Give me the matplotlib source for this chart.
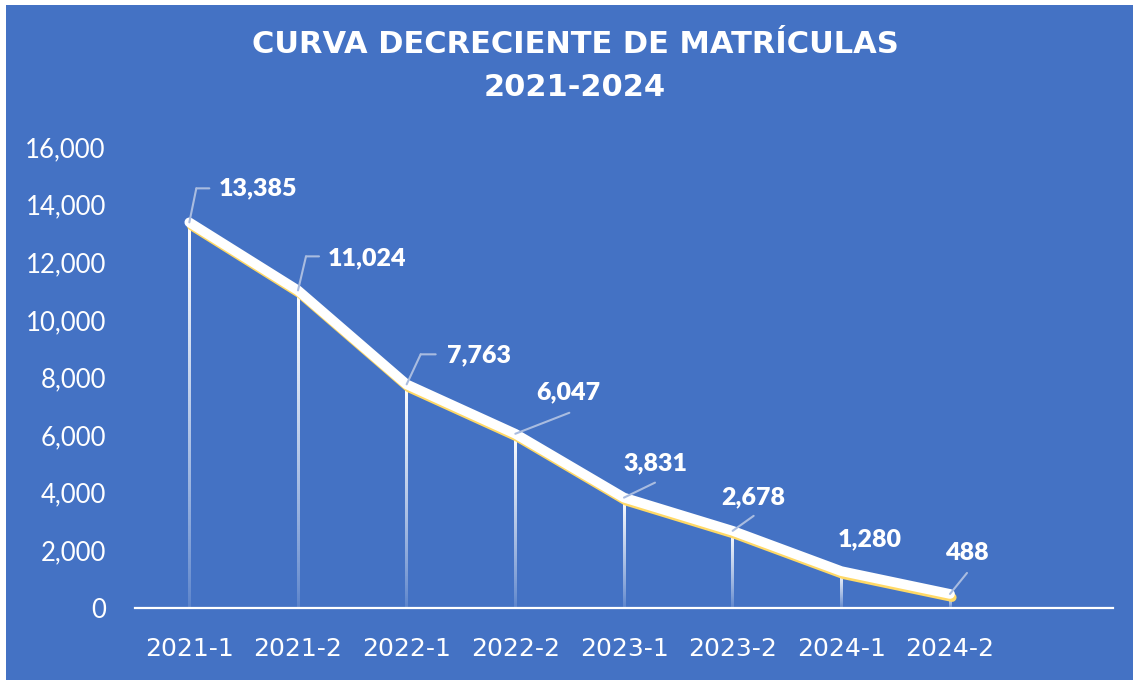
import matplotlib
matplotlib.use("Agg")
import matplotlib.pyplot as plt
import matplotlib.patheffects as pe
from matplotlib.transforms import offset_copy
import numpy as np

categories = ["2021-1", "2021-2", "2022-1", "2022-2", "2023-1", "2023-2", "2024-1", "2024-2"]
values = [13385, 11024, 7763, 6047, 3831, 2678, 1280, 488]
value_labels = ["13,385", "11,024", "7,763", "6,047", "3,831", "2,678", "1,280", "488"]
yticks = [0, 2000, 4000, 6000, 8000, 10000, 12000, 14000, 16000]
ytick_labels = ["0", "2,000", "4,000", "6,000", "8,000", "10,000", "12,000", "14,000", "16,000"]
title = "CURVA DECRECIENTE DE MATRÍCULAS\n2021-2024"

BLUE = "#4472C4"
LEADER = "#A9BCE0"
YELLOW = "#FFD966"

W, H = 1133, 680
fig = plt.figure(figsize=(W / 100, H / 100), dpi=100, facecolor="white")
bg = plt.Rectangle((6 / W, 0), 1 - 6 / W, 1 - 5 / H, transform=fig.transFigure,
                   facecolor=BLUE, edgecolor="none", zorder=-10)
fig.patches.append(bg)

ax = fig.add_axes([135 / W, 1 - 608 / H, (1113 - 135) / W, (608 - 147) / H])
ax.set_facecolor("none")
ax.set_xlim(-0.5, 8.5)
ax.set_ylim(0, 16000)

x = np.arange(len(values))

# drop lines with fading gradient (smooth images)
grad = np.linspace(0, 1, 256) ** 0.8  # bottom -> top alpha
rgba = np.ones((256, 1, 4))
rgba[:, 0, 3] = 0.12 + 0.88 * grad
half_w = 1.3 / 108.7
for xi, v in zip(x, values):
    ax.imshow(rgba, extent=[xi - half_w, xi + half_w, 0, v], origin="lower",
              aspect="auto", interpolation="bilinear", zorder=2)
ax.set_xlim(-0.5, 8.5)
ax.set_ylim(0, 16000)

# main line with yellow shadow
ax.plot(x, values, color=YELLOW, lw=6.5, solid_capstyle="round", solid_joinstyle="round", zorder=3,
        path_effects=[pe.Stroke(offset=(1.5, -2.5), linewidth=6.5, foreground=YELLOW)])
ax.plot(x, values, color="white", lw=7, solid_capstyle="round", solid_joinstyle="round", zorder=4)

# data labels with leader lines (pixel offsets)
leaders = [
    [(7, 34), (20, 34)],
    [(8, 34), (21, 34)],
    [(14, 30), (29, 30)],
    [(54, 21)],
    [(31, 15)],
    [(21, 15)],
    [],
    [(17, 21)],
]
label_pos = [(69, 34), (69, 32), (72, 29), (53, 41), (31, 34), (21, 34), (28, 32), (17, 41)]

for i, (v, lab) in enumerate(zip(values, value_labels)):
    pts = [(0, 0)] + leaders[i]
    for (ax0, ay0), (ax1, ay1) in zip(pts[:-1], pts[1:]):
        tr = offset_copy(ax.transData, fig=fig, x=ax0, y=ay0, units="dots")
        ax.annotate("", xy=(x[i], v), xycoords=tr, xytext=(ax1 - ax0, ay1 - ay0),
                    textcoords="offset pixels",
                    arrowprops=dict(arrowstyle="-", color=LEADER, lw=1.5, shrinkA=0, shrinkB=0),
                    zorder=5)
    dx, dy = label_pos[i]
    ax.annotate(lab, xy=(x[i], v), xytext=(dx, dy), textcoords="offset pixels",
                ha="center", va="center", color="white", fontsize=18, fontweight="heavy",
                family="Lato", zorder=6)

# axes styling
for s in ["top", "right", "left"]:
    ax.spines[s].set_visible(False)
ax.spines["bottom"].set_color("white")
ax.spines["bottom"].set_linewidth(1.6)
ax.spines["bottom"].set_zorder(1)

ax.set_yticks(yticks)
ax.set_yticklabels(ytick_labels, family="Lato", fontsize=18.5, color="white")
ax.set_xticks(x)
ax.set_xticklabels(categories, family="DejaVu Sans", fontsize=18, color="white")
ax.tick_params(axis="y", length=0, pad=21)
ax.tick_params(axis="x", length=0, pad=21)

fig.text(575 / W, 1 - 66 / H, title, ha="center", va="center", color="white",
         fontsize=22, fontweight="bold", family="DejaVu Sans", linespacing=1.6)

fig.savefig("out.png", dpi=100, facecolor=fig.get_facecolor())
